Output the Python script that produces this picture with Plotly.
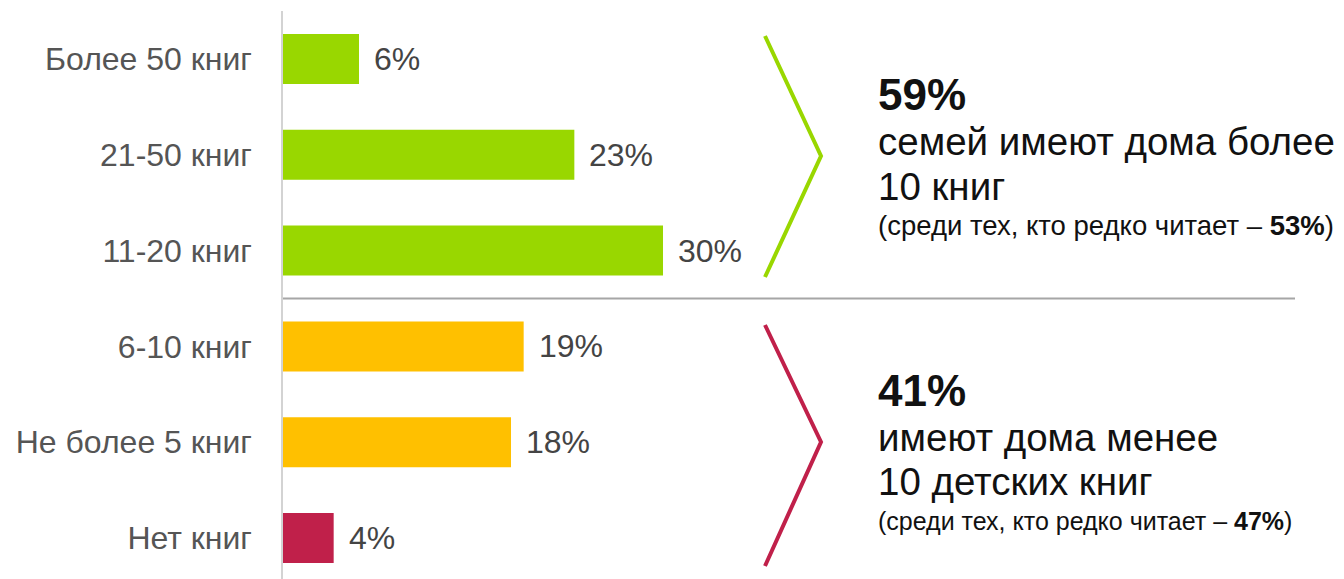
import plotly.graph_objects as go

# ---- data ----
categories = ["Более 50 книг", "21-50 книг", "11-20 книг", "6-10 книг", "Не более 5 книг", "Нет книг"]
values = [6, 23, 30, 19, 18, 4]
value_labels = ["6%", "23%", "30%", "19%", "18%", "4%"]
bar_colors = ["#99D700", "#99D700", "#99D700", "#FFC000", "#FFC000", "#C0204A"]

group_top_share = "59%"
group_top_lines = ["семей имеют дома более", "10 книг"]
group_top_note = ("(среди тех, кто редко читает – ", "53%", ")")
group_bottom_share = "41%"
group_bottom_lines = ["имеют дома менее", "10 детских книг"]
group_bottom_note = ("(среди тех, кто редко читает – ", "47%", ")")

# ---- layout geometry (screen pixels) ----
W, H = 1344, 579
OX, OY = 8, 8       # page body margin offset
AX_X = 283          # left edge of bars (screen)
PX_PER_PCT = 12.667
ROW0 = 59           # centre of first bar (screen)
ROW_STEP = 95.8
BAR_H = 50

FONT = "Liberation Sans, Arial, Helvetica, sans-serif"


def px(x):
    return (x - OX) / W


def py(y):
    return 1 - (y - OY) / H


n = len(categories)
x_max = (W - (AX_X - OX)) / PX_PER_PCT
y_top = -(ROW0 - OY) / ROW_STEP
y_bot = (n - 1) + (H - ((ROW0 - OY) + ROW_STEP * (n - 1))) / ROW_STEP

fig = go.Figure()
fig.add_trace(go.Bar(
    y=categories,
    x=values,
    orientation="h",
    marker=dict(color=bar_colors, line=dict(width=0)),
    hoverinfo="skip",
    showlegend=False,
))

# value labels
for c, v, t in zip(categories, values, value_labels):
    fig.add_annotation(x=v, y=c, xref="x", yref="y", text=t, showarrow=False,
                       xanchor="left", yanchor="middle", xshift=13,
                       font=dict(family=FONT, size=32, color="#444444"))

shapes = []
# vertical axis line
shapes.append(dict(type="line", xref="paper", yref="paper",
                   x0=px(AX_X - 1), x1=px(AX_X - 1), y0=py(11), y1=0,
                   line=dict(color="#D3D3D3", width=2)))
# separator line between groups
shapes.append(dict(type="line", xref="x", yref="y",
                   x0=0, x1=(1295 - AX_X) / PX_PER_PCT, y0=2.5, y1=2.5,
                   line=dict(color="#A6A6A6", width=2)))
# chevrons
for (ya, yb, yc, col) in [(36, 156, 277, "#99D700"), (325, 442, 566, "#C0204A")]:
    shapes.append(dict(type="path", xref="paper", yref="paper",
                       path=f"M {px(765)},{py(ya)} L {px(821)},{py(yb)} L {px(765)},{py(yc)}",
                       line=dict(color=col, width=4), fillcolor="rgba(0,0,0,0)"))

# right-hand text blocks
TX = px(876)
for off, share, lines, note, note_size in [
        (0, group_top_share, group_top_lines, group_top_note, 27.5),
        (295, group_bottom_share, group_bottom_lines, group_bottom_note, 25)]:
    fig.add_annotation(x=TX, y=py(95 + off), xref="paper", yref="paper", text=f"<b>{share}</b>",
                       showarrow=False, xanchor="left", yanchor="middle",
                       font=dict(family=FONT, size=44, color="#111111"))
    fig.add_annotation(x=TX, y=py(142 + off), xref="paper", yref="paper", text=lines[0],
                       showarrow=False, xanchor="left", yanchor="middle",
                       font=dict(family=FONT, size=38.5, color="#111111"))
    fig.add_annotation(x=TX, y=py(186 + off), xref="paper", yref="paper", text=lines[1],
                       showarrow=False, xanchor="left", yanchor="middle",
                       font=dict(family=FONT, size=38.5, color="#111111"))
    fig.add_annotation(x=TX, y=py(226 + off), xref="paper", yref="paper",
                       text=f"{note[0]}<b>{note[1]}</b>{note[2]}",
                       showarrow=False, xanchor="left", yanchor="middle",
                       font=dict(family=FONT, size=note_size, color="#111111"))

fig.update_layout(
    width=W, height=H,
    margin=dict(l=0, r=0, t=0, b=0),
    paper_bgcolor="white", plot_bgcolor="white",
    bargap=1 - BAR_H / ROW_STEP,
    shapes=shapes,
    xaxis=dict(domain=[px(AX_X), 1], range=[0, x_max], visible=False, fixedrange=True),
    yaxis=dict(domain=[0, 1], type="category", categoryorder="array", categoryarray=categories,
               range=[y_bot, y_top], showgrid=False, zeroline=False, showline=False,
               ticks="", ticklabelstandoff=30,
               tickfont=dict(family=FONT, size=32, color="#555555"), fixedrange=True),
)

fig.write_html("out.html", config=dict(displayModeBar=False))
